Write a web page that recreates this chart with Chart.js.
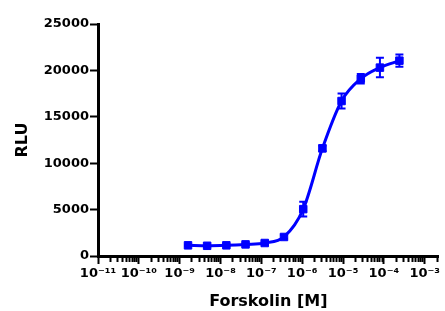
<!DOCTYPE html>
<html>
<head>
<meta charset="utf-8">
<script src="https://cdn.jsdelivr.net/npm/chart.js@4/dist/chart.umd.min.js"></script>
<style>
  html, body { margin: 0; padding: 0; background: #ffffff; }
  canvas { display: block; }
</style>
</head>
<body>
<canvas id="c" width="445" height="311"></canvas>
<script>
// Forskolin concentrations [M] (approx. 3-fold dilution series)
const concentrations = [1.6e-9, 4.7e-9, 1.39e-8, 4.1e-8, 1.21e-7, 3.58e-7, 1.06e-6, 3.13e-6, 9.2e-6, 2.72e-5, 8.0e-5, 2.4e-4];
// Mean RLU
const rluMean = [1150, 1100, 1150, 1250, 1400, 2050, 5050, 11600, 16700, 19100, 20300, 21050];
// Error (SEM) of RLU
const rluError = [100, 100, 100, 100, 150, 200, 800, 300, 800, 500, 1050, 650];
// Axis ticks
const xMajorTicks = [1e-11, 1e-10, 1e-9, 1e-8, 1e-7, 1e-6, 1e-5, 1e-4, 1e-3];
const xTickLabels = ['10\u207B\u00B9\u00B9', '10\u207B\u00B9\u2070', '10\u207B\u2079', '10\u207B\u2078', '10\u207B\u2077', '10\u207B\u2076', '10\u207B\u2075', '10\u207B\u2074', '10\u207B\u00B3'];
const xMinorMultipliers = [2, 3, 4, 5, 6, 7, 8, 9];
const yTicks = [0, 5000, 10000, 15000, 20000, 25000];

const BLUE = '#0000FF';
const FONT = "'DejaVu Sans', sans-serif";

const xTickObjects = [];
xMajorTicks.forEach(function (m) {
  xTickObjects.push({ value: m, major: true });
  xMinorMultipliers.forEach(function (k) {
    const v = m * k;
    if (v <= 2.2e-3) xTickObjects.push({ value: v, major: false });
  });
});

const errorBarPlugin = {
  id: 'errorBars',
  afterDatasetsDraw(chart) {
    const ctx = chart.ctx;
    const xs = chart.scales.x, ys = chart.scales.y;
    ctx.save();
    ctx.strokeStyle = BLUE;
    ctx.lineWidth = 2;
    const cap = 4;
    concentrations.forEach(function (c, i) {
      const px = xs.getPixelForValue(c);
      const top = ys.getPixelForValue(rluMean[i] + rluError[i]);
      const bot = ys.getPixelForValue(rluMean[i] - rluError[i]);
      ctx.beginPath();
      ctx.moveTo(px, top); ctx.lineTo(px, bot);
      ctx.moveTo(px - cap, top); ctx.lineTo(px + cap, top);
      ctx.moveTo(px - cap, bot); ctx.lineTo(px + cap, bot);
      ctx.stroke();
    });
    ctx.restore();
  }
};

new Chart(document.getElementById('c'), {
  type: 'scatter',
  data: {
    datasets: [{
      data: concentrations.map(function (c, i) { return { x: c, y: rluMean[i] }; }),
      showLine: true,
      borderColor: BLUE,
      backgroundColor: BLUE,
      borderWidth: 3,
      cubicInterpolationMode: 'monotone',
      pointStyle: 'rect',
      pointRadius: 5.3,
      pointBorderWidth: 1,
      pointBackgroundColor: BLUE,
      pointBorderColor: BLUE,
      clip: false
    }]
  },
  options: {
    responsive: false,
    animation: false,
    events: [],
    layout: { padding: { top: 24, right: 1, bottom: 0, left: 0 } },
    plugins: { legend: { display: false }, tooltip: { enabled: false } },
    scales: {
      x: {
        type: 'logarithmic',
        min: 1e-11,
        max: 2.2e-3,
        afterBuildTicks: function (scale) { scale.ticks = xTickObjects.map(function (t) { return { value: t.value, major: t.major }; }); },
        afterFit: function (scale) { scale.height = 55; },
        border: { display: true, color: '#000', width: 3 },
        grid: {
          drawOnChartArea: false,
          drawTicks: true,
          tickLength: 8,
          tickColor: '#000',
          tickWidth: 2,
          tickBorderDash: function (ctx) { return ctx.tick && ctx.tick.major ? [] : [4, 50]; }
        },
        ticks: {
          autoSkip: false,
          maxRotation: 0,
          minRotation: 0,
          padding: 2,
          color: '#000',
          font: { family: FONT, size: 13, weight: 'bold' },
          callback: function (value) {
            const idx = xMajorTicks.findIndex(function (m) { return Math.abs(Math.log10(m) - Math.log10(value)) < 1e-6; });
            return idx >= 0 ? xTickLabels[idx] : '';
          }
        },
        title: {
          display: true,
          text: 'Forskolin [M]',
          color: '#000',
          font: { family: FONT, size: 16, weight: 'bold' },
          padding: { top: 0, bottom: 0 }
        }
      },
      y: {
        type: 'linear',
        min: 0,
        max: 25000,
        afterBuildTicks: function (scale) { scale.ticks = yTicks.map(function (v) { return { value: v }; }); },
        afterFit: function (scale) { scale.width = 98; },
        border: { display: true, color: '#000', width: 3 },
        grid: {
          drawOnChartArea: false,
          drawTicks: true,
          tickLength: 8,
          tickColor: '#000',
          tickWidth: 2
        },
        ticks: {
          padding: 1,
          color: '#000',
          font: { family: FONT, size: 13, weight: 'bold' },
          callback: function (v) { return String(v); }
        },
        title: {
          display: true,
          text: 'RLU',
          color: '#000',
          font: { family: FONT, size: 16, weight: 'bold' },
          padding: { top: 13, bottom: 0 }
        }
      }
    }
  },
  plugins: [errorBarPlugin]
});
</script>
</body>
</html>
